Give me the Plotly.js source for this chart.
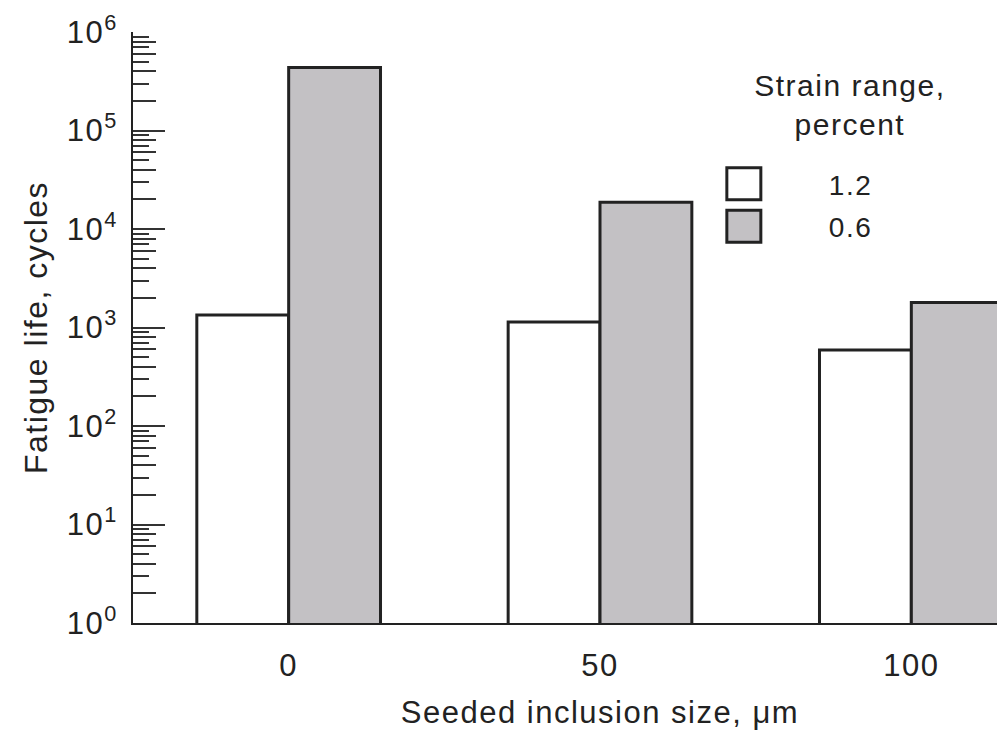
<!DOCTYPE html>
<html><head><meta charset="utf-8">
<script src="https://cdn.plot.ly/plotly-3.0.1.min.js"></script>
<style>
html,body{margin:0;padding:0;overflow:hidden;background:#fff;}
#chart{width:1067px;height:730px;}
.main-svg text{letter-spacing:1.5px;}
</style></head><body><div id="chart"></div>
<script>
// Data
const inclusionSizes = ["0", "50", "100"];
const seriesNames = ["1.2", "0.6"];
const life_strain12 = [1340, 1140, 590];
const life_strain06 = [436000, 18700, 1790];
const yTickVals = [1, 10, 100, 1000, 10000, 100000, 1000000];
const yTickText = ["10<sup>0</sup>", "10<sup>1</sup>", "10<sup>2</sup>", "10<sup>3</sup>", "10<sup>4</sup>", "10<sup>5</sup>", "10<sup>6</sup>"];
const longMinorMult = [2, 4, 6, 8];
const shortMinorMult = [3, 5, 7, 9];

const decades = yTickVals.slice(0, -1);
const longMinor = [], shortMinor = [];
decades.forEach(d => {
  longMinorMult.forEach(m => longMinor.push(d * m));
  shortMinorMult.forEach(m => shortMinor.push(d * m));
});

const ink = '#222222';
const font = {family: '"Liberation Sans", Arial, Helvetica, sans-serif', color: ink};

const traces = [
  {type: 'bar', name: seriesNames[0], x: inclusionSizes, y: life_strain12,
   marker: {color: '#ffffff', line: {color: ink, width: 3}}, legendgroup: 'a', legendrank: 1},
  {type: 'bar', name: seriesNames[1], x: inclusionSizes, y: life_strain06,
   marker: {color: '#c3c1c4', line: {color: ink, width: 3}}, legendgroup: 'b', legendrank: 2},
  {type: 'scatter', x: [], y: [], yaxis: 'y2', showlegend: false, hoverinfo: 'skip'}
];

const layout = {
  width: 1067, height: 730,
  margin: {l: 133, r: 0, t: 32, b: 107},
  paper_bgcolor: '#ffffff', plot_bgcolor: '#ffffff',
  font: font,
  barmode: 'group', bargap: 0.41, bargroupgap: 0,
  showlegend: true,
  legend: {x: 0.563, y: 0.785, xanchor: 'left', yanchor: 'top',
           bgcolor: 'rgba(0,0,0,0)', borderwidth: 0, itemwidth: 160,
           tracegroupgap: 3, font: {size: 28, color: ink, family: font.family},
           itemclick: false},
  xaxis: {type: 'category', range: [-0.5, 2.5], showline: true, linewidth: 2, linecolor: ink,
          ticks: '', showgrid: false, zeroline: false, tickfont: {size: 31},
          ticklabelstandoff: 14,
          title: {text: 'Seeded inclusion size, μm', font: {size: 31}, standoff: 20}},
  yaxis: {type: 'log', range: [0, 6], showline: true, linewidth: 2, linecolor: ink,
          showgrid: false, zeroline: false,
          tickmode: 'array', tickvals: yTickVals, ticktext: yTickText,
          ticks: 'inside', ticklen: 32, tickwidth: 2, tickcolor: '#333',
          tickfont: {size: 31}, ticklabelstandoff: 7,
          minor: {tickmode: 'array', tickvals: shortMinor, ticks: 'inside', ticklen: 16, tickwidth: 2, tickcolor: '#333', showgrid: false},
          title: {text: 'Fatigue life, cycles', font: {size: 32}, standoff: 14}},
  yaxis2: {type: 'log', range: [0, 6], overlaying: 'y', side: 'left', showline: false,
           showgrid: false, zeroline: false, showticklabels: false,
           tickmode: 'array', tickvals: longMinor, ticks: 'inside', ticklen: 23, tickwidth: 2, tickcolor: '#333'},
  annotations: [
    {xref: 'paper', yref: 'paper', x: 0.768, y: 0.876, text: 'Strain range,<br>percent', showarrow: false,
     xanchor: 'center', yanchor: 'middle', align: 'center', font: {size: 30, color: ink}}
  ]
};

Plotly.newPlot('chart', traces, layout, {displayModeBar: false, staticPlot: true}).then(gd => {
  gd.querySelectorAll('.legend .legendpoints path').forEach(p => {
    if (p.getAttribute('d') === 'M6,6H-6V-6H6Z') {
      p.setAttribute('d', 'M17,16H-17V-16H17Z');
      p.style.strokeWidth = '3px';
    }
  });
});
</script></body></html>
